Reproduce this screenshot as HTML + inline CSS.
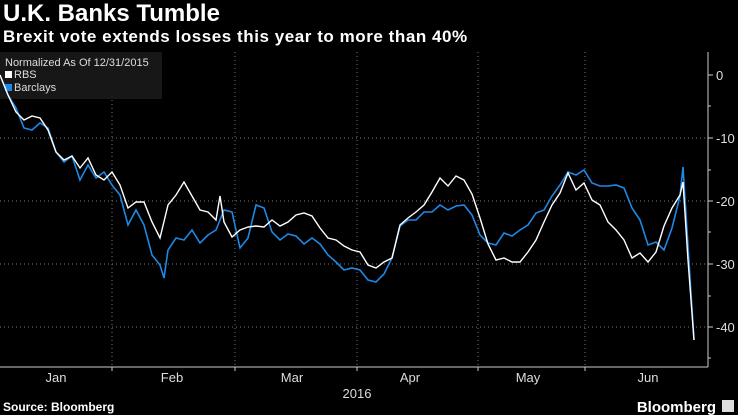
<!DOCTYPE html>
<html><head><style>
body{margin:0;background:#000;width:738px;height:415px;overflow:hidden;font-family:"Liberation Sans",sans-serif;color:#fff}
.t{position:absolute;left:3px;top:0px;font-size:24px;font-weight:bold}
.s{position:absolute;left:3px;top:27px;font-size:17px;font-weight:bold;letter-spacing:0.55px}
</style></head><body>
<div class="t">U.K. Banks Tumble</div>
<div class="s">Brexit vote extends losses this year to more than 40%</div>
<svg width="738" height="415" style="position:absolute;left:0;top:0">
<g stroke="#777" stroke-dasharray="1,3" stroke-width="1">
<line x1="0" y1="138" x2="708" y2="138"/><line x1="0" y1="201" x2="708" y2="201"/>
<line x1="0" y1="264" x2="708" y2="264"/><line x1="0" y1="327" x2="708" y2="327"/>
<line x1="112" y1="52" x2="112" y2="367"/><line x1="235" y1="52" x2="235" y2="367"/>
<line x1="357" y1="52" x2="357" y2="367"/><line x1="478" y1="52" x2="478" y2="367"/>
<line x1="585" y1="52" x2="585" y2="367"/>
</g>
<rect x="0" y="52" width="162" height="47" fill="#1a1a1a" opacity="0.9"/>
<text x="5" y="66" font-size="11" fill="#ddd">Normalized As Of 12/31/2015</text>
<rect x="5" y="71" width="7" height="7" fill="#fff"/><text x="14" y="78" font-size="11" fill="#ddd">RBS</text>
<rect x="5" y="84" width="7" height="7" fill="#1e88e5"/><text x="14" y="91" font-size="11" fill="#ddd">Barclays</text>
<polyline fill="none" stroke="#1e88e5" stroke-width="1.6" points="0,75 8,95 16,108 24,128 32,130 40,123 48,128 56,152 64,162 72,156 80,180 88,165 96,178 104,172 112,185 120,195 128,225 136,210 144,225 152,255 160,265 164,278 168,250 176,238 184,240 192,230 200,243 208,235 216,230 224,210 232,212 240,248 248,238 256,205 264,208 272,232 280,240 288,234 296,236 304,244 312,238 320,244 328,255 336,262 344,270 352,268 360,270 368,280 376,282 384,274 392,258 400,226 408,220 416,220 424,212 432,212 440,205 448,210 456,206 464,205 472,215 480,235 488,243 496,245 504,233 512,236 520,230 528,225 536,213 544,210 552,196 560,185 568,172 576,175 584,170 592,183 600,186 608,186 616,185 624,188 632,208 640,220 648,245 656,242 664,250 672,228 680,196 683,167 694,340"/>
<polyline fill="none" stroke="#fff" stroke-width="1.4" points="0,75 8,95 16,112 24,120 32,116 40,118 48,130 56,152 64,160 72,156 80,168 88,158 96,175 104,180 112,172 120,185 128,208 136,202 144,202 152,222 160,238 168,205 176,195 184,182 192,196 200,210 208,212 216,220 220,196 224,222 232,237 240,230 248,227 256,226 264,227 272,220 280,226 288,222 296,215 304,213 312,216 320,228 328,238 336,240 344,246 352,250 360,252 368,265 376,268 384,262 392,258 400,225 408,218 416,212 424,205 432,192 440,178 448,186 456,176 464,180 472,194 480,218 488,244 496,260 504,258 512,262 520,262 528,252 536,240 544,222 552,205 560,193 568,173 576,190 584,183 592,200 600,205 608,222 616,230 624,240 632,258 640,253 648,262 656,252 664,226 672,208 680,195 683,182 688,260 694,340"/>
<g stroke="#ccc" stroke-width="1">
<line x1="708" y1="52" x2="708" y2="367"/><line x1="0" y1="367" x2="708" y2="367"/>
<line x1="708" y1="75" x2="713" y2="75"/><line x1="708" y1="106" x2="711" y2="106"/>
<line x1="708" y1="138" x2="713" y2="138"/><line x1="708" y1="170" x2="711" y2="170"/>
<line x1="708" y1="201" x2="713" y2="201"/><line x1="708" y1="232" x2="711" y2="232"/>
<line x1="708" y1="264" x2="713" y2="264"/><line x1="708" y1="296" x2="711" y2="296"/>
<line x1="708" y1="327" x2="713" y2="327"/><line x1="708" y1="358" x2="711" y2="358"/>
<line x1="112" y1="367" x2="112" y2="371"/><line x1="235" y1="367" x2="235" y2="371"/>
<line x1="357" y1="367" x2="357" y2="371"/><line x1="478" y1="367" x2="478" y2="371"/>
<line x1="585" y1="367" x2="585" y2="371"/>
</g>
<g fill="#ddd" font-size="13">
<text x="716" y="80">0</text><text x="716" y="143">-10</text><text x="716" y="206">-20</text>
<text x="716" y="269">-30</text><text x="716" y="332">-40</text>
</g>
<g fill="#ddd" font-size="13" text-anchor="middle">
<text x="56" y="382">Jan</text><text x="172" y="382">Feb</text><text x="292" y="382">Mar</text>
<text x="410" y="382">Apr</text><text x="528" y="382">May</text><text x="648" y="382">Jun</text>
<text x="357" y="398">2016</text>
</g>
<text x="3" y="411" font-size="12" font-weight="bold" fill="#fff">Source: Bloomberg</text>
<text x="716" y="412" font-size="15" font-weight="bold" fill="#fff" text-anchor="end">Bloomberg</text>
<rect x="722" y="400" width="12" height="12" fill="#ddd"/>
</svg>
</body></html>
